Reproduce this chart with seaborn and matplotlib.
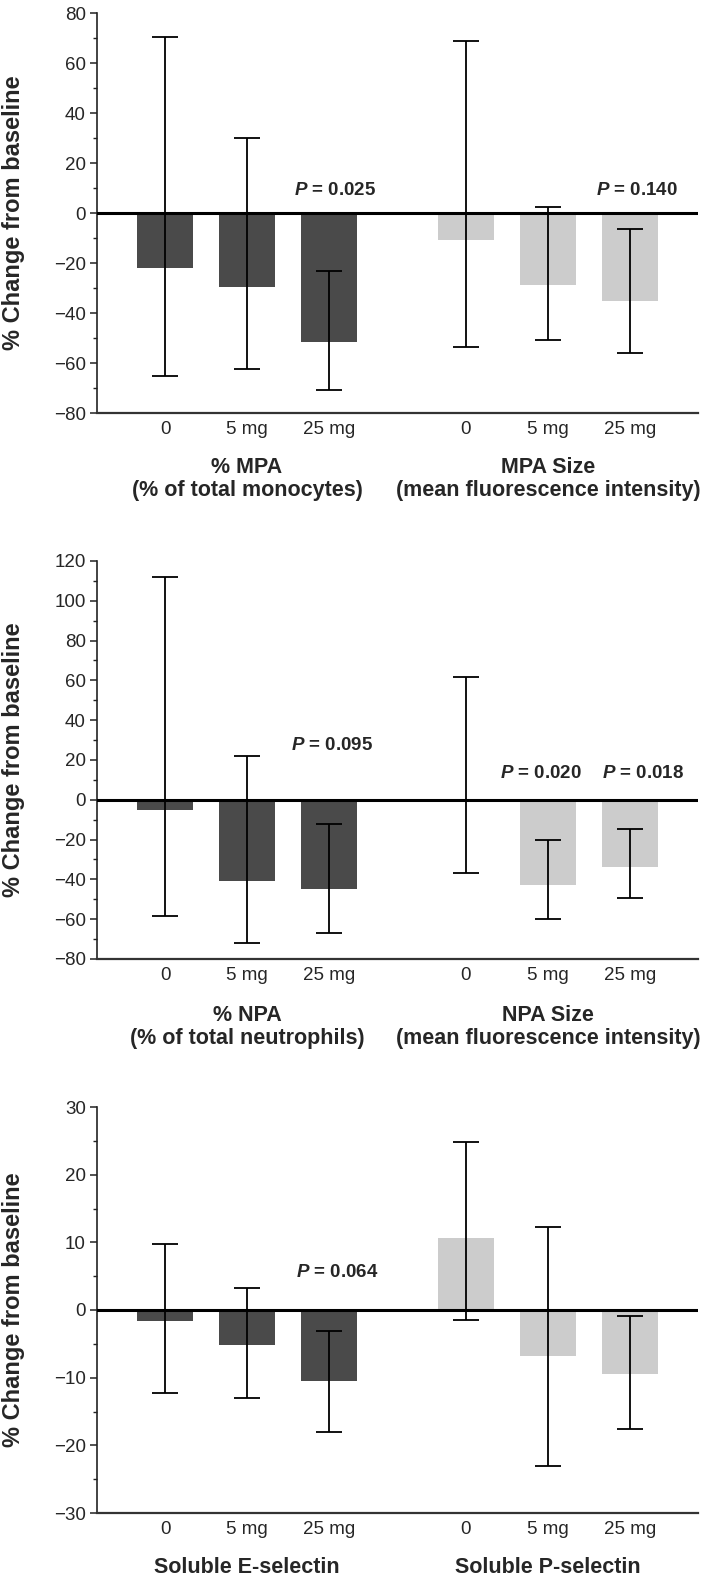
import numpy as np
import pandas as pd
import matplotlib
matplotlib.use("Agg")
import matplotlib.pyplot as plt
from matplotlib.ticker import MultipleLocator
from matplotlib import font_manager as fm
import seaborn as sns

# ---------------- data ----------------
doses = ["0", "5 mg", "25 mg"]
positions = [0, 1, 2, 3.67, 4.67, 5.67]

p1_groups = ["% MPA\n(% of total monocytes)", "MPA Size\n(mean fluorescence intensity)"]
p1_mean = [-22.0, -29.7, -51.7, -10.7, -28.7, -35.2]
p1_upper = [70.3, 30.0, -23.2, 68.9, 2.3, -6.5]
p1_lower = [-65.3, -62.5, -70.8, -53.5, -50.9, -55.9]
p1_pvals = [(2, "0.025"), (5, "0.140")]

p2_groups = ["% NPA\n(% of total neutrophils)", "NPA Size\n(mean fluorescence intensity)"]
p2_mean = [-4.9, -40.8, -44.9, 0.5, -42.8, -33.8]
p2_upper = [111.8, 21.9, -12.2, 61.6, -20.3, -14.6]
p2_lower = [-58.2, -71.8, -66.8, -36.7, -59.9, -49.5]
p2_pvals = [(2, "0.095"), (4, "0.020"), (5, "0.018")]

p3_groups = ["Soluble E-selectin", "Soluble P-selectin"]
p3_mean = [-1.6, -5.1, -10.5, 10.6, -6.85, -9.4]
p3_upper = [9.7, 3.25, -3.05, 24.8, 12.2, -0.9]
p3_lower = [-12.3, -12.95, -18.0, -1.5, -23.1, -17.6]
p3_pvals = [(2, "0.064")]

dark = "#4a4a4a"
light = "#cccccc"

# annotation placement (x shift in bar units, y baseline in data units)
p1_ptext_pos = [(0.07, 7.2), (0.08, 7.2)]
p2_ptext_pos = [(0.04, 25.0), (-0.09, 11.0), (0.16, 11.0)]
p3_ptext_pos = [(0.10, 4.9)]

# ---------------- style ----------------
sns.set_style("ticks")
installed = {f.name for f in fm.fontManager.ttflist}
if "Liberation Sans Narrow" in installed:
    NARROW, k = "Liberation Sans Narrow", 1.2
else:
    NARROW, k = "Liberation Sans", 1.0
plt.rcParams["font.family"] = ["Liberation Sans", "DejaVu Sans"]
plt.rcParams["mathtext.fontset"] = "custom"
plt.rcParams["mathtext.it"] = f"{NARROW}:italic:bold"
plt.rcParams["mathtext.rm"] = f"{NARROW}:bold"

TICK = 13.5 * k
GROUP = 15.5 * k
PSIZE = 13.5 * k

fig = plt.figure(figsize=(7.09, 15.83), dpi=100)
W, H = 709.0, 1583.0
left_px, right_px = 97, 698

panels = [
    dict(top=13, bottom=413, ylim=(-80, 80), major=20, minor=10,
         mean=p1_mean, upper=p1_upper, lower=p1_lower, groups=p1_groups,
         pvals=p1_pvals, ppos=p1_ptext_pos, goff=-47.5),
    dict(top=561, bottom=959, ylim=(-80, 120), major=20, minor=10,
         mean=p2_mean, upper=p2_upper, lower=p2_lower, groups=p2_groups,
         pvals=p2_pvals, ppos=p2_ptext_pos, goff=-49),
    dict(top=1107, bottom=1513, ylim=(-30, 30), major=10, minor=5,
         mean=p3_mean, upper=p3_upper, lower=p3_lower, groups=p3_groups,
         pvals=p3_pvals, ppos=p3_ptext_pos, goff=-39),
]

for p in panels:
    ax = fig.add_axes([left_px / W, 1 - p["bottom"] / H,
                       (right_px - left_px) / W, (p["bottom"] - p["top"]) / H])
    df = pd.DataFrame({
        "pos": positions,
        "value": p["mean"],
        "group": ["A"] * 3 + ["B"] * 3,
    })
    sns.barplot(data=df, x="pos", y="value", hue="group", palette=[dark, light],
                native_scale=True, width=0.68, dodge=False, errorbar=None,
                legend=False, saturation=1, linewidth=0, ax=ax, zorder=2)
    mean = np.array(p["mean"])
    yerr = [mean - np.array(p["lower"]), np.array(p["upper"]) - mean]
    ax.errorbar(positions, mean, yerr=yerr, fmt="none", ecolor="black",
                elinewidth=1.3, capsize=9.7, capthick=1.3, zorder=4)
    ax.axhline(0, color="black", lw=2.2, zorder=3)

    ax.set_xlim(-0.83, 6.5)
    ax.set_ylim(*p["ylim"])
    ax.set_yticks(np.arange(p["ylim"][0], p["ylim"][1] + 0.1, p["major"]))
    ax.yaxis.set_minor_locator(MultipleLocator(p["minor"]))
    ax.set_yticklabels([f"{int(v)}".replace("-", "\u2212") for v in ax.get_yticks()],
                       fontfamily=NARROW)
    ax.set_xticks(positions)
    ax.set_xticklabels(doses * 2, fontfamily=NARROW)
    ax.tick_params(axis="y", which="major", length=5, width=1.1, direction="out",
                   labelsize=TICK, pad=3, color="#222222")
    ax.tick_params(axis="y", which="minor", length=3, width=1.0, direction="out",
                   color="#222222")
    ax.tick_params(axis="x", which="both", length=0, pad=6, labelsize=TICK)

    for s in ["top", "right"]:
        ax.spines[s].set_visible(False)
    ax.spines["left"].set_color("#222222")
    ax.spines["left"].set_linewidth(1.2)
    ax.spines["bottom"].set_color("#333333")
    ax.spines["bottom"].set_linewidth(1.6)

    ax.set_xlabel("")
    ax.set_ylabel("% Change from baseline", fontsize=17, fontweight="bold")
    ax.yaxis.set_label_coords(-0.12, 0.5)

    centers = [np.mean(positions[:3]), np.mean(positions[3:])]
    for c, lab in zip(centers, p["groups"]):
        ax.annotate(lab, xy=(c, 0), xycoords=("data", "axes fraction"),
                    xytext=(0, p["goff"]), textcoords="offset points",
                    ha="center", va="center", fontsize=GROUP, fontweight="bold",
                    fontfamily=NARROW, linespacing=1.1)

    for (idx, val), (dx, yv) in zip(p["pvals"], p["ppos"]):
        ax.text(positions[idx] + dx, yv, r"$\mathit{P}$" + " = " + val,
                ha="center", va="baseline", fontsize=PSIZE, fontweight="bold",
                fontfamily=NARROW, zorder=5)

fig.savefig("out.png", dpi=100)
